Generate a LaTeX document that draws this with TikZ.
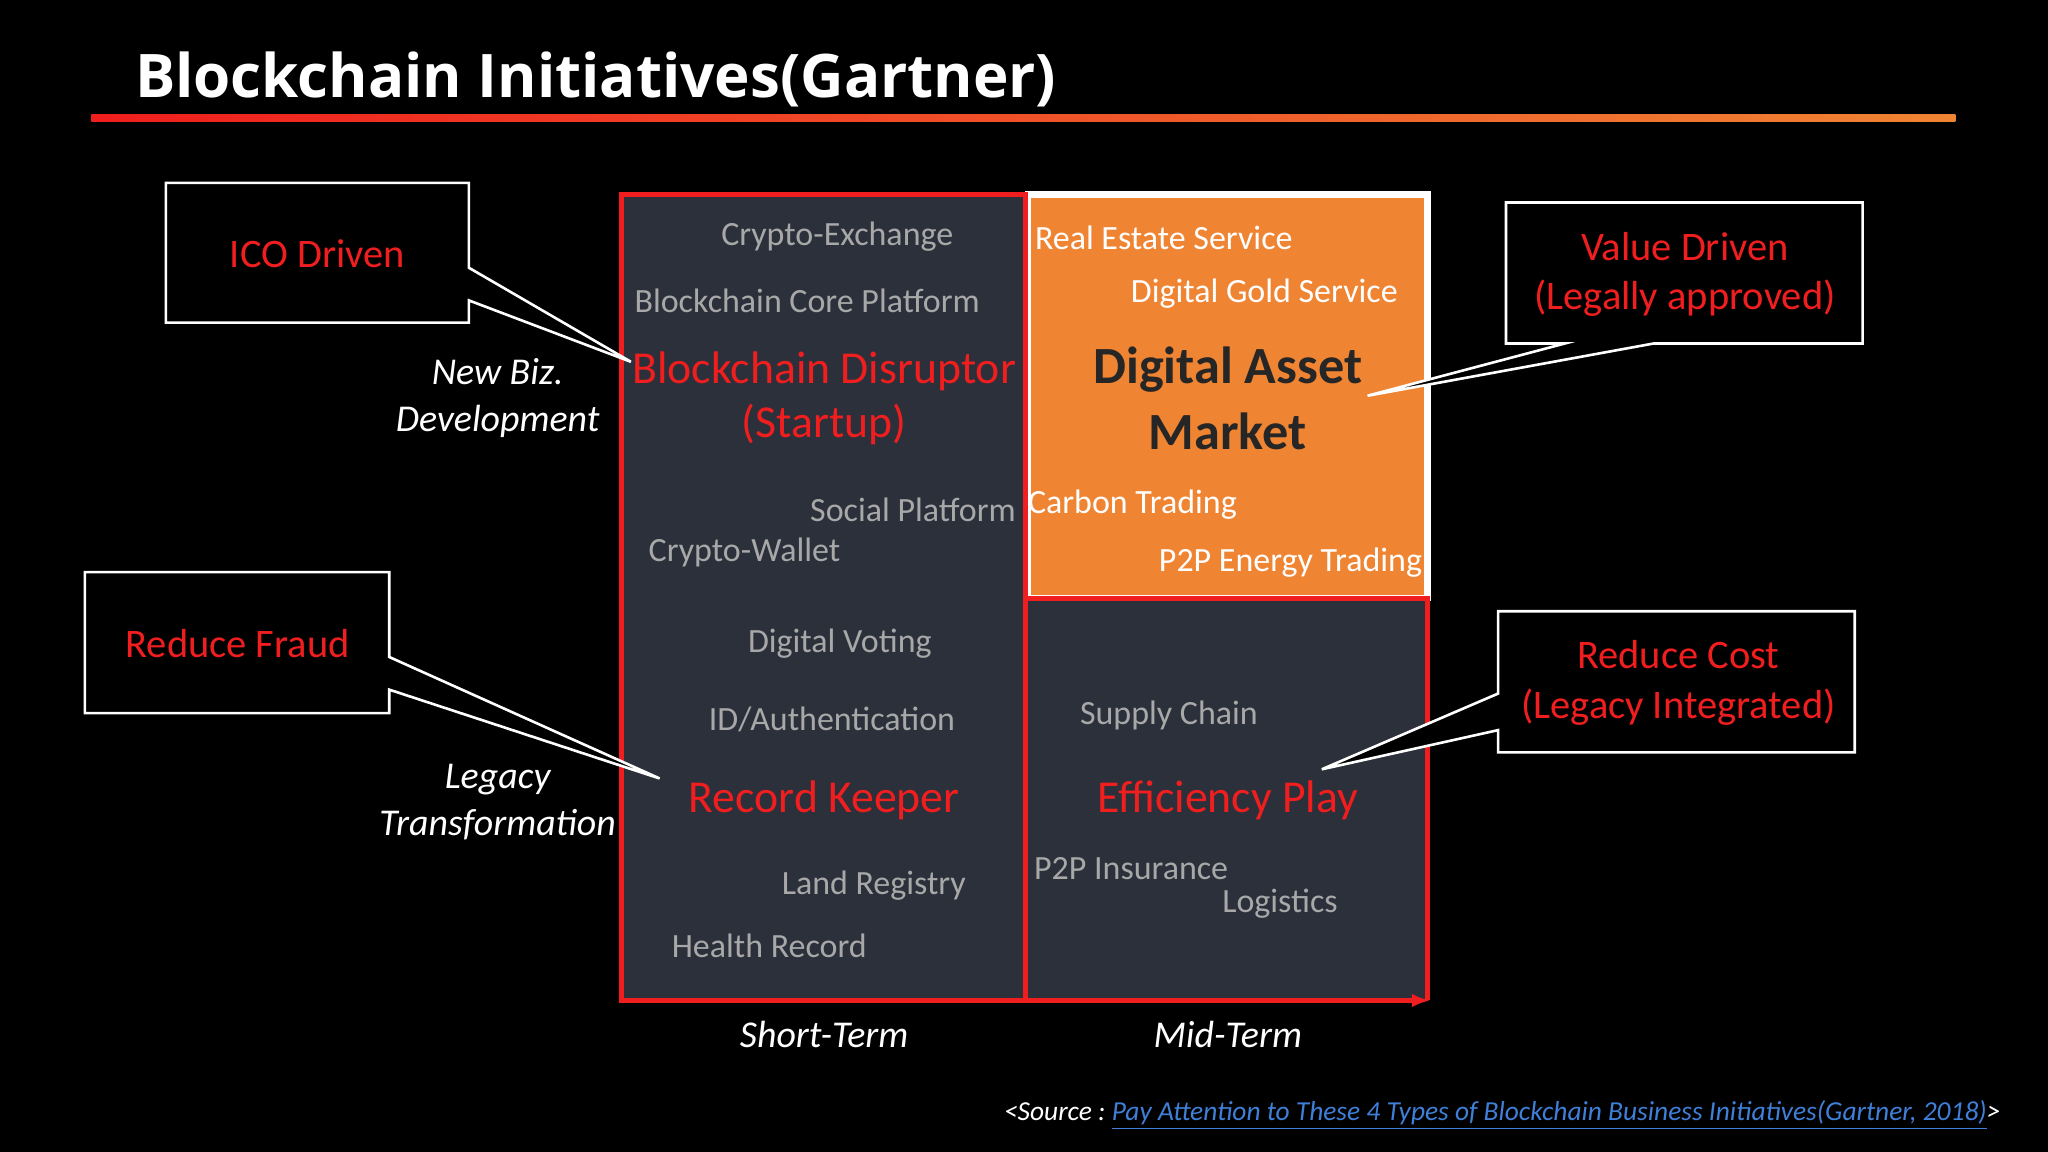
\documentclass[tikz,border=0pt]{standalone}
\usepackage{fontspec}
\usetikzlibrary{arrows.meta}
\setmainfont{Carlito}
\newfontfamily\titlefont{Open Sans}
\definecolor{cell}{HTML}{2B303B}
\definecolor{org}{HTML}{EF8433}
\definecolor{gr}{HTML}{A8A8A8}
\definecolor{rd}{HTML}{F01E1E}
\definecolor{lnk}{HTML}{3F7FD8}
\begin{document}
\begin{tikzpicture}[x=0.5pt,y=-0.5pt,
  g/.style={text=gr,font=\fontsize{13}{15}\selectfont,inner sep=0pt},
  w/.style={text=white,font=\fontsize{13}{15}\selectfont,inner sep=0pt},
  big/.style={text=rd,font=\fontsize{17.5}{21}\selectfont,align=center,inner sep=0pt},
  ax/.style={text=white,font=\fontsize{14.5}{18}\selectfont\itshape,align=center,inner sep=0pt},
  call/.style={draw=white,fill=black,line width=1pt},
  ct/.style={text=rd,font=\fontsize{15.5}{19}\selectfont,align=center,inner sep=0pt}]
\fill[black] (0,0) rectangle (1568,882);
\useasboundingbox (0,0) rectangle (1568,882);
\node[anchor=base west,text=white,font=\titlefont\bfseries\fontsize{23}{27}\selectfont,inner sep=0pt] (title) at (103,75) {Blockchain Initiatives(Gartner)};
\shade[left color=rd,right color=org] (70,88) rectangle (1497,93);
% cells
\fill[cell] (476,149) rectangle (785,458);
\fill[cell] (785,458) rectangle (1093,766);
\fill[cell] (476,458) rectangle (785,766);
\fill[org] (787,149) rectangle (1093,458);
\draw[white,line width=2.5pt] (787,149) rectangle (1093,458);
\draw[rd,line width=2pt] (476,149) rectangle (785,766);
\draw[rd,line width=2pt] (785,458) -- (1093,458) -- (1093,766);
\draw[rd,line width=2pt,-{Latex[length=7pt]}] (476,766) -- (1095,766);
% top-left
\node[g] (ce) at (641,181) {Crypto-Exchange};
\node[g] (bcp) at (618,230) {Blockchain Core Platform};
\node[big] (bd) at (631,305) {Blockchain Disruptor\\(Startup)};
\node[g] (sp) at (699,390) {Social Platform};
\node[g] (cw) at (570,423) {Crypto-Wallet};
% top-right
\node[w] (re) at (891,182) {Real Estate Service};
\node[w] (dg) at (968,225) {Digital Gold Service};
\node[text=black!85,font=\fontsize{20}{25}\selectfont\bfseries,align=center,inner sep=0pt] (dam) at (940,305) {Digital Asset\\Market};
\node[w] (ct) at (867,386) {Carbon Trading};
\node[w] (pe) at (988,431) {P2P Energy Trading};
% bottom-left
\node[g] (dv) at (643,493) {Digital Voting};
\node[g] (id) at (637,551) {ID/Authentication};
\node[big] (rk) at (631,613) {Record Keeper};
\node[g] (lr) at (669,678) {Land Registry};
\node[g] (hr) at (589,724) {Health Record};
% bottom-right
\node[g] (sc) at (895,548) {Supply Chain};
\node[big] (ep) at (940,613) {Efficiency Play};
\node[g] (pi) at (866,665) {P2P Insurance};
\node[g] (lo) at (980,692) {Logistics};
% axes
\node[ax] (nb) at (381,305) {New Biz.\\Development};
\node[ax] (lt) at (381,614) {Legacy\\Transformation};
\node[ax] (st) at (631,792) {Short-Term};
\node[ax] (mt) at (940,792) {Mid-Term};
% callouts
\coordinate (p1) at (483,277);
\coordinate (p2) at (1047,303);
\coordinate (p3) at (505,596);
\coordinate (p4) at (1012,589);
\draw[call] (127,140) -- (359,140) -- (359,205) -- (p1) -- (359,230) -- (359,247) -- (127,247) -- cycle;
\node[ct] (ico) at (243,194) {ICO Driven};
\draw[call] (1153,155) -- (1426,155) -- (1426,263) -- (1266,263) -- (p2) -- (1198,263) -- (1153,263) -- cycle;
\node[ct] (vd) at (1290,210) {Value Driven\\(Legally approved)};
\draw[call] (65,438) -- (298,438) -- (298,503) -- (p3) -- (298,528) -- (298,546) -- (65,546) -- cycle;
\node[ct] (rf) at (182,493) {Reduce Fraud};
\draw[call] (1147,468) -- (1420,468) -- (1420,576) -- (1147,576) -- (1147,559) -- (p4) -- (1147,531) -- cycle;
\node[ct] (rc) at (1285,523) {Reduce Cost\\(Legacy Integrated)};
% source
\node[anchor=base east,inner sep=0pt,font=\fontsize{10.5}{12}\selectfont\itshape,text=white] (src) at (1532,858) {<Source :~\textcolor{lnk}{\underline{Pay Attention to These 4 Types of Blockchain Business Initiatives(Gartner, 2018)}}>};
\end{tikzpicture}
\end{document}
